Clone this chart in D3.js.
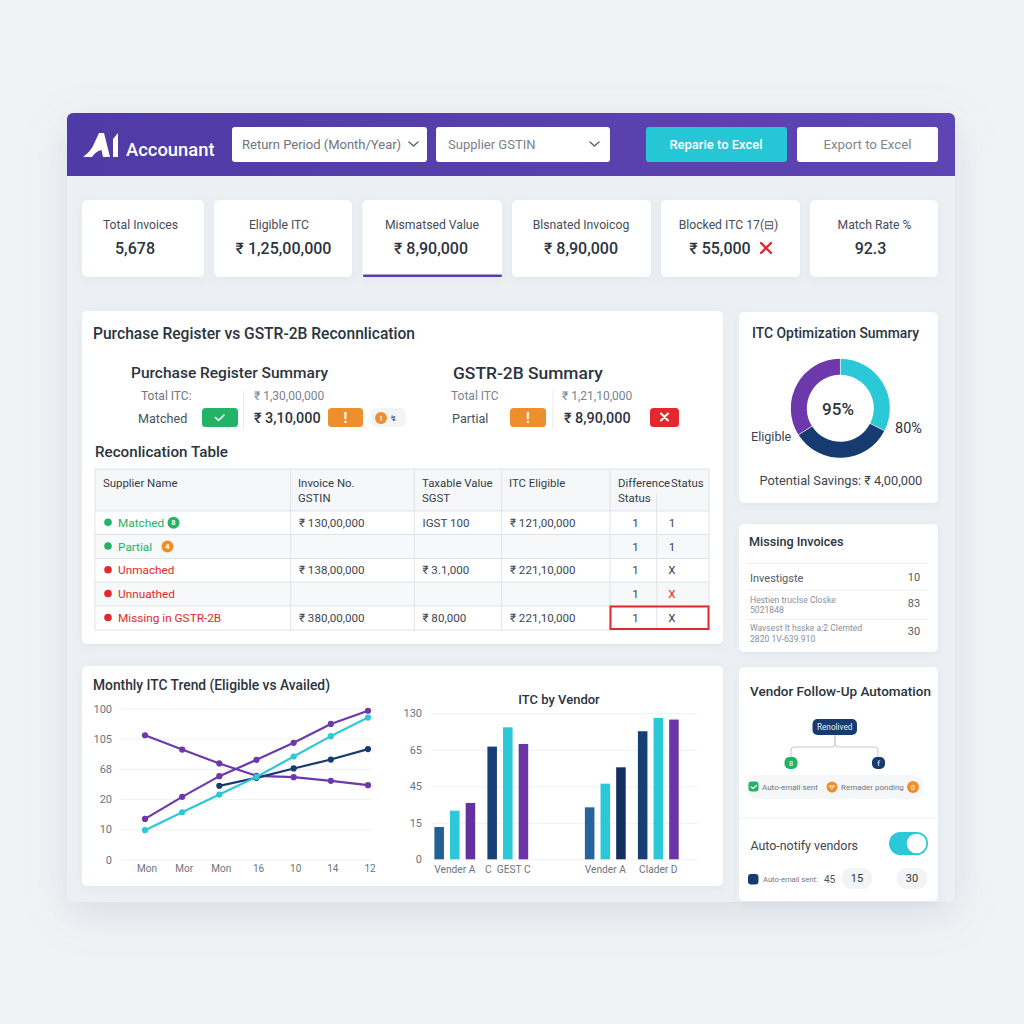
<!DOCTYPE html>
<html>
<head>
<meta charset="utf-8">
<script src="https://cdn.jsdelivr.net/npm/d3@7"></script>
<style>
  html, body { margin: 0; padding: 0; background: #f0f3f6; }
  svg { display: block; }
  text { font-family: Roboto, "Noto Sans", sans-serif; white-space: pre; }
</style>
</head>
<body>
<svg id="page" width="1024" height="1024"></svg>
<script>
// kpi row
const kpiLabels = ["Total Invoices", "Eligible ITC", "Mismatsed Value", "Blsnated Invoicog", "Blocked ITC 17(⊟)", "Match Rate %"];
const kpiValues = ["5,678", "₹ 1,25,00,000", "₹ 8,90,000", "₹ 8,90,000", "₹ 55,000", "92.3"];

// reconciliation table
const tableHead1 = ["Supplier Name", "Invoice No.", "Taxable Value", "ITC Eligible", "Difference", "Status"];
const tableHead2 = ["", "GSTIN", "SGST", "", "Status", ""];
const rowNames = ["Matched", "Partial", "Unmached", "Unnuathed", "Missing in GSTR-2B"];
const rowInvoice = ["₹ 130,00,000", "", "₹ 138,00,000", "", "₹ 380,00,000"];
const rowTaxable = ["IGST 100", "", "₹ 3.1,000", "", "₹ 80,000"];
const rowEligible = ["₹ 121,00,000", "", "₹ 221,10,000", "", "₹ 221,10,000"];
const rowDiff = ["1", "1", "1", "1", "1"];
const rowStatus = ["1", "1", "X", "X", "X"];

// line chart
const trendTicks = ["0", "10", "20", "68", "105", "100"];
const trendLabels = ["Mon", "Mor", "Mon", "16", "10", "14", "12"];
const risingPurple = [26.9, 41.5, 55.2, 66, 77.3, 89.8, 98.5];
const risingCyan = [19.4, 31.3, 43, 54.7, 68.2, 81.7, 94];
const navyPart = [null, null, 48.8, 54.1, 60.3, 66.2, 73.1];
const fallingPurple = [82.3, 72.8, 63.6, 55.4, 54.5, 52.1, 49.2];

// bar chart
const barTicks = ["0", "15", "45", "65", "130"];
const barPairs = ["left", "right"];
const barVendors = ["Vender A", "C  GEST C", "Vender A", "Clader D"];
const barValues = [
  [22.1, 33.3, 38.6],
  [77.2, 90.4, 79],
  [35.6, 51.8, 63],
  [87.7, 96.8, 95.7]
];

// donut
const donutValues = [32.5, 33.5, 34];

// missing invoices list
const missLine1 = ["Investigste", "Hestien trucIse Closke", "Wavsest It hsske a:2 Clemted"];
const missLine2 = ["", "5021848", "2820 1V-639.910"];
const missCounts = ["10", "83", "30"];

const PURPLE = "#6d38ab", CYAN = "#2bc8d8", NAVY = "#163b70", GREEN = "#24b266", ORANGE = "#ee8f2e", RED = "#e3282e";
const INK = "#2b3440", GREY = "#6b7480";

const svg = d3.select("#page");

const defs = svg.append("defs");
const soft = defs.append("filter").attr("id", "soft").attr("x", "-20%").attr("y", "-20%").attr("width", "140%").attr("height", "150%");
soft.append("feDropShadow").attr("dx", 0).attr("dy", 2).attr("stdDeviation", 4).attr("flood-color", "#8b98aa").attr("flood-opacity", 0.12);
const big = defs.append("filter").attr("id", "big").attr("x", "-10%").attr("y", "-10%").attr("width", "120%").attr("height", "125%");
big.append("feDropShadow").attr("dx", 0).attr("dy", 12).attr("stdDeviation", 20).attr("flood-color", "#7d8a9c").attr("flood-opacity", 0.2);
const headGrad = defs.append("linearGradient").attr("id", "headGrad");
headGrad.append("stop").attr("offset", "0").attr("stop-color", "#4f3ba5");
headGrad.append("stop").attr("offset", "1").attr("stop-color", "#5f44b3");

function box(x0, y0, x1, y1, fill, r, parent) {
  return (parent || svg).append("rect").attr("x", x0).attr("y", y0)
    .attr("width", x1 - x0).attr("height", y1 - y0).attr("rx", r || 0).attr("fill", fill);
}
function card(x0, y0, x1, y1) {
  return box(x0, y0, x1, y1, "#ffffff", 5).attr("filter", "url(#soft)");
}
// y is the vertical middle of the text
function label(x, y, str, size, color, weight, anchor) {
  return svg.append("text").attr("x", x).attr("y", y).attr("dy", "0.36em")
    .attr("font-size", size).attr("fill", color || INK).attr("font-weight", weight || 400)
    .attr("text-anchor", anchor || "start").text(str);
}
function stroke(d, color, w) {
  return svg.append("path").attr("d", d).attr("fill", "none").attr("stroke", color)
    .attr("stroke-width", w || 1).attr("stroke-linecap", "round").attr("stroke-linejoin", "round");
}
function badge(x0, x1, y0, y1, fill) { return box(x0, y0, x1, y1, fill, 3.5); }

// outer panel and header
box(67, 113, 955, 902, "#ecf0f4", 6).attr("filter", "url(#big)");
svg.append("path").attr("d", "M67,176V119a6,6 0 0 1 6,-6H949a6,6 0 0 1 6,6V176Z").attr("fill", "url(#headGrad)");

// logo
svg.append("path").attr("fill", "#fff")
  .attr("d", "M83,157 C88,153 91,150 93,146 L99,133 L104,133 L110,157 L103,157 L101.5,150 C97,151 94,154 92,157Z M113,139 L118,133 L118,157 L113,157Z");
label(126, 149, "Accounant", 18.4, "#fff", 500);

// filters and buttons
box(232, 127, 427, 162, "#fff", 3);
label(242, 144.5, "Return Period (Month/Year)", 13, "#6d7480");
stroke("M409,142 l4.5,4 l4.5,-4", "#5c6470", 1.5);
box(436, 127, 610, 162, "#fff", 3);
label(448, 144.5, "Supplier GSTIN", 13, "#7a818c");
stroke("M590,142 l4.5,4 l4.5,-4", "#5c6470", 1.5);
box(646, 127, 787, 162, "#25c6d6", 3);
label(716, 144.5, "Reparie to Excel", 13, "#fff", 500, "middle");
box(797, 127, 938, 162, "#fff", 3);
label(867.5, 144.5, "Export to Excel", 13.3, "#7f858f", 400, "middle");

// kpi cards
const kpiLeft = [82, 214, 362.5, 512, 661, 810];
const kpiRight = [204, 352, 502, 651, 800, 938];
const kpiLabelMid = [140.5, 279, 432, 581, 728.5, 874.5];
const kpiValueMid = [135, 283.5, 431, 581, 720, 870.5];
kpiLabels.forEach((d, i) => {
  card(kpiLeft[i], 200, kpiRight[i], 277);
  label(kpiLabelMid[i], 225, d, 12.2, "#454d58", 400, "middle");
  label(kpiValueMid[i], 248.5, kpiValues[i], 16, INK, 500, "middle");
});
box(363, 274.6, 502, 277, "#5a3eb0", 1);
stroke("M761,243 l10,10 M771,243 l-10,10", RED, 2.4);

// main card
card(82, 311, 723, 644);
label(93, 333, "Purchase Register vs GSTR-2B Reconnlication", 15.6, INK, 500);

// purchase register summary
label(131, 372.5, "Purchase Register Summary", 15.5, INK, 500);
label(141, 396, "Total ITC:", 12, "#6f7782");
label(138, 418, "Matched", 12.6, "#49515c");
badge(202, 238, 408, 427, GREEN);
stroke("M215.5,417.5 l3,3 l5.5,-5.5", "#fff", 1.6);
stroke("M243.5,391 V429", "#e6e9ed", 1);
label(254, 396, "₹ 1,30,00,000", 12, "#7b828c");
label(254, 418, "₹ 3,10,000", 14.4, INK, 500);
badge(328, 363, 408, 427, ORANGE);
label(345.5, 417.5, "!", 14, "#fff", 700, "middle");
box(371, 408, 406, 427, "#f2f4f6", 6);
svg.append("circle").attr("cx", 381).attr("cy", 418).attr("r", 6).attr("fill", ORANGE);
label(381, 418, "!", 8, "#fff", 700, "middle");
label(393, 418, "↯", 8, INK, 400, "middle");

// gstr-2b summary
label(453, 372.5, "GSTR-2B Summary", 17.4, INK, 500);
label(451, 396, "Total ITC", 12, "#7b828c");
label(452, 418, "Partial", 12.6, "#49515c");
badge(510, 546, 408, 427, ORANGE);
label(528, 417.5, "!", 14, "#fff", 700, "middle");
stroke("M553,391 V429", "#e6e9ed", 1);
label(562, 396, "₹ 1,21,10,000", 12, "#7b828c");
label(564, 418, "₹ 8,90,000", 14.4, INK, 500);
badge(650, 679, 408, 427, RED);
stroke("M661,413.5 l7,7 M668,413.5 l-7,7", "#fff", 2);

// reconciliation table
label(95, 451.5, "Reconlication Table", 15.2, INK, 500);
const colEdges = [95, 290.7, 414.3, 501.7, 610, 656.7, 709];
const rowEdges = [511, 534.5, 558.5, 582, 606, 630];
const headX = [103, 298, 422, 509, 618, 671];
box(95, 469, 709, 511, "#f5f7f9");
rowNames.forEach((d, i) => {
  box(95, rowEdges[i], 709, rowEdges[i + 1], i % 2 ? "#f7f8fa" : "#fff");
});
const ruleColor = "#dfe3e8";
rowEdges.forEach(y => stroke(`M95,${y}H709`, ruleColor));
stroke("M95,469H709", ruleColor);
colEdges.forEach((x, i) => stroke(`M${x},${i === 5 ? 495 : 469}V630`, ruleColor));

tableHead1.forEach((d, i) => {
  label(headX[i], i === 0 ? 482.5 : 483, d, 11.4, "#333c47", 400);
  if (tableHead2[i]) label(headX[i], 498, tableHead2[i], 11.4, "#333c47", 400);
});

const rowColors = [GREEN, GREEN, RED, RED, RED];
const rowY = rowEdges.slice(0, 5).map((y, i) => (y + rowEdges[i + 1]) / 2);
rowNames.forEach((d, i) => {
  const y = rowY[i];
  svg.append("circle").attr("cx", 108).attr("cy", y - 0.5).attr("r", 3.8).attr("fill", rowColors[i]);
  label(118, y, d, 11.8, rowColors[i]);
  label(299, y, rowInvoice[i], 11.6, "#3c4550");
  label(422.5, y, rowTaxable[i], 11.6, "#3c4550");
  label(510, y, rowEligible[i], 11.6, "#3c4550");
  label(635.5, y, rowDiff[i], 11.6, "#3c4550", 400, "middle");
  label(672, y, rowStatus[i], 11.6, i === 3 ? RED : "#3c4550", 400, "middle");
});
svg.append("circle").attr("cx", 173.5).attr("cy", rowY[0]).attr("r", 6).attr("fill", GREEN);
label(173.5, rowY[0], "8", 7.5, "#fff", 700, "middle");
svg.append("circle").attr("cx", 167.5).attr("cy", rowY[1]).attr("r", 6).attr("fill", ORANGE);
label(167.5, rowY[1], "4", 7.5, "#fff", 700, "middle");
svg.append("rect").attr("x", 610.5).attr("y", 606.5).attr("width", 98).attr("height", 22.5)
  .attr("fill", "none").attr("stroke", RED).attr("stroke-width", 2);

// trend + bar card
card(82, 666, 723, 886);
label(93, 685, "Monthly ITC Trend (Eligible vs Availed)", 13.8, INK, 500);

const tx = d3.scalePoint().domain(d3.range(trendLabels.length)).range([145, 368]);
const ty = d3.scaleLinear().domain([0, 100]).range([859.5, 708.5]);
const trendAxisY = d3.axisLeft(ty).tickValues(d3.range(0, 101, 20)).tickSize(-251)
  .tickPadding(9).tickFormat((d, i) => trendTicks[i]);
svg.append("g").attr("transform", "translate(121,0)").call(trendAxisY)
  .call(g => g.select(".domain").remove())
  .call(g => g.selectAll(".tick line").attr("stroke", "#eef1f4"))
  .call(g => g.selectAll("text").attr("font-size", 11).attr("fill", GREY).attr("font-family", null));
const trendAxisX = d3.axisBottom(tx).tickSize(0).tickPadding(5).tickFormat(i => trendLabels[i]);
svg.append("g").attr("transform", "translate(1.5,859.5)").call(trendAxisX)
  .call(g => g.select(".domain").remove())
  .call(g => g.selectAll("text").attr("font-size", 10).attr("fill", GREY).attr("font-family", null));

const trendLine = d3.line().defined(d => d !== null).x((d, i) => tx(i)).y(d => ty(d));
[[fallingPurple, PURPLE], [navyPart, NAVY], [risingPurple, PURPLE], [risingCyan, CYAN]].forEach(([vals, color]) => {
  svg.append("path").datum(vals).attr("d", trendLine).attr("fill", "none")
    .attr("stroke", color).attr("stroke-width", 2.2);
  svg.selectAll(null).data(vals.map((v, i) => [v, i]).filter(d => d[0] !== null)).enter().append("circle")
    .attr("cx", d => tx(d[1])).attr("cy", d => ty(d[0])).attr("r", 3.1).attr("fill", color);
});

// bars: two pairs of vendor groups, three bars in each
label(559, 699, "ITC by Vendor", 13, INK, 500, "middle");
const by = d3.scaleLinear().domain([0, 100]).range([859.3, 713.3]);
const pairX = d3.scaleBand().domain(barPairs).range([428.3, 684.8]).paddingInner(0.2957);
const groupX = d3.scaleBand().domain([0, 1]).range([0, pairX.bandwidth()]);
const barX = d3.scaleBand().domain([0, 1, 2]).range([0, groupX.bandwidth()]).paddingInner(0.39).paddingOuter(0.39);
const groupLeft = i => pairX(barPairs[Math.floor(i / 2)]) + groupX(i % 2);
const groupColors = [
  ["#215f94", CYAN, "#65309f"],
  ["#163f76", CYAN, "#6b35a8"],
  ["#24659b", CYAN, "#14305e"],
  ["#163f76", CYAN, "#6b35a8"]
];

const barAxisY = d3.axisLeft(by).tickValues(d3.range(0, 101, 25)).tickSize(-266)
  .tickPadding(9).tickFormat((d, i) => barTicks[i]);
svg.append("g").attr("transform", "translate(431,0)").call(barAxisY)
  .call(g => g.select(".domain").remove())
  .call(g => g.selectAll(".tick line").attr("stroke", "#eef1f4"))
  .call(g => g.selectAll("text").attr("font-size", 11).attr("fill", GREY).attr("font-family", null));

barValues.forEach((vals, i) => {
  svg.append("g").attr("transform", `translate(${groupLeft(i)},0)`)
    .selectAll("rect").data(vals).enter().append("rect")
    .attr("x", (d, j) => barX(j)).attr("width", barX.bandwidth())
    .attr("y", d => by(d)).attr("height", d => by(0) - by(d))
    .attr("fill", (d, j) => groupColors[i][j]);
  label(groupLeft(i) + groupX.bandwidth() / 2, 869, barVendors[i], 10.2, GREY, 400, "middle");
});

// itc optimization card
card(739, 312, 938, 503);
label(752, 332.5, "ITC Optimization Summary", 13.9, INK, 500);
const pie = d3.pie().sort(null).padAngle(0.012);
const arc = d3.arc().innerRadius(33.5).outerRadius(49.5);
svg.append("g").attr("transform", "translate(840.3,408.3)")
  .selectAll("path").data(pie(donutValues)).enter().append("path")
  .attr("d", arc).attr("fill", (d, i) => [CYAN, NAVY, PURPLE][i]);
label(838, 409, "95%", 17, INK, 500, "middle");
label(751, 436, "Eligible", 12.6, "#3c4550");
label(895, 428, "80%", 14.5, INK, 400);
label(759.5, 480, "Potential Savings: ₹ 4,00,000", 12.8, "#3c4550");

// missing invoices card
card(739, 524, 938, 652);
label(749, 541, "Missing Invoices", 12.6, INK, 500);
[563.5, 590, 619.5].forEach(y => stroke(`M748,${y}H928`, "#e9ecef"));
const missY1 = [578, 600, 628];
const missY2 = [0, 610, 639];
const missCountY = [577.5, 603, 631];
missLine1.forEach((d, i) => {
  label(750, missY1[i], d, i === 0 ? 11 : 8.6, i === 0 ? "#545c66" : "#8a909a");
  if (missLine2[i]) label(750, missY2[i], missLine2[i], 8.6, "#8a909a");
  label(914, missCountY[i], missCounts[i], 11, "#545c66", 400, "middle");
});

// vendor follow-up card
card(739, 667, 938, 901);
label(750, 691, "Vendor Follow-Up Automation", 13.5, INK, 500);
stroke("M835,735V744q0,3 -3,3H794q-3,0 -3,3V757 M835,735V744q0,3 3,3H875q3,0 3,3V757", "#c3c9d0", 1);
box(812.5, 719, 857, 735, NAVY, 5);
label(834.7, 727, "Renolived", 8.2, "#e8edf4", 400, "middle");
box(784.5, 757, 797.5, 769, GREEN, 5);
label(791, 763, "8", 7.5, "#fff", 400, "middle");
box(872, 757, 885, 769, NAVY, 5);
label(878.5, 763, "f", 7.5, "#fff", 400, "middle");
box(747, 775, 923, 799, "#f5f6f8", 9);
box(748.5, 781.5, 758.5, 791.5, GREEN, 3);
stroke("M751,787 l2,1.5 l3.5,-3", "#fff", 1.2);
label(762, 787, "Auto-email sent", 8, "#71777f");
svg.append("circle").attr("cx", 832).attr("cy", 787).attr("r", 5.5).attr("fill", ORANGE);
stroke("M829.5,786 h5 l-2.5,2.5Z", "#fff", 1);
label(841, 787, "Remader ponding", 8, "#71777f");
svg.append("circle").attr("cx", 913).attr("cy", 787).attr("r", 6).attr("fill", ORANGE);
label(913, 787, "0", 7, "#fff", 400, "middle");

stroke("M739,818H938", "#eef0f3", 1.2);
label(750.5, 845.5, "Auto-notify vendors", 12.4, "#3c4550");
box(889, 832, 928, 855, CYAN, 11.5);
svg.append("circle").attr("cx", 916.5).attr("cy", 843.5).attr("r", 9.8).attr("fill", "#fff");
box(748, 874, 758.5, 884.5, NAVY, 3);
label(763, 879.5, "Auto-email sent:", 7.6, "#71777f");
label(829.5, 879.5, "45", 10, "#4a525c", 400, "middle");
box(842, 868, 872, 889, "#f2f4f6", 9);
label(857, 878.5, "15", 11, INK, 400, "middle");
box(897, 868, 927, 889, "#f2f4f6", 9);
label(912, 878.5, "30", 11, INK, 400, "middle");
</script>
</body>
</html>
